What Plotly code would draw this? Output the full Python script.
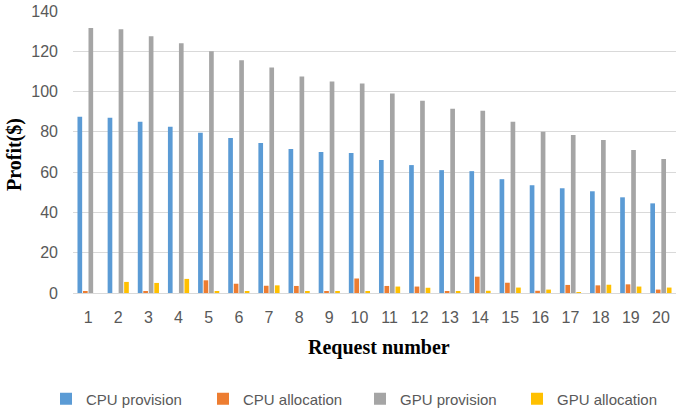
import plotly.graph_objects as go

requests = [str(i) for i in range(1, 21)]
cpu_provision = [87.5, 87, 85, 82.5, 79.5, 77, 74.5, 71.5, 70, 69.5, 66, 63.5, 61, 60.5, 56.5, 53.5, 52, 50.5, 47.5, 44.5]
cpu_allocation = [0.7, 0, 0.8, 0, 6.3, 4.6, 3.6, 3.5, 0.6, 7.2, 3.5, 3.2, 0.8, 8.1, 5.1, 1.1, 4.0, 3.8, 4.3, 1.7]
gpu_provision = [131.5, 131, 127.5, 124, 120, 115.5, 112, 107.5, 105, 104, 99, 95.5, 91.5, 90.5, 85, 80, 78.5, 76, 71, 66.5]
gpu_allocation = [0, 5.5, 5.0, 7.0, 0.8, 1.0, 3.8, 0.8, 1.0, 0.8, 3.2, 2.6, 0.7, 1.1, 2.7, 1.7, 0.3, 4.1, 3.2, 2.7]

series = [
    ("CPU provision", cpu_provision, "#5B9BD5"),
    ("CPU allocation", cpu_allocation, "#ED7D31"),
    ("GPU provision", gpu_provision, "#A5A5A5"),
    ("GPU allocation", gpu_allocation, "#FFC000"),
]

fig = go.Figure()
for name, vals, color in series:
    fig.add_trace(go.Bar(x=requests, y=vals, name=name, marker=dict(color=color, line=dict(width=0))))

W, H = 685, 411
L, R, T, B = 73, 9, 11, 118
pw = W - L - R
ph = H - T - B

def px(xp):
    return (xp - L) / pw

def py(yp):
    return (H - B - yp) / ph

fig.update_layout(
    width=W, height=H,
    margin=dict(l=L, r=R, t=T, b=B, autoexpand=False),
    paper_bgcolor="white", plot_bgcolor="white",
    barmode="group", bargap=0.27, bargroupgap=0.15,
    font=dict(family="Liberation Sans", color="#595959", size=16),
    xaxis=dict(showgrid=False, showline=True, linecolor="#D9D9D9", linewidth=1,
               ticks="", ticklabelstandoff=10, tickfont=dict(size=16, color="#595959")),
    yaxis=dict(range=[0, 140], dtick=20, showgrid=True, gridcolor="#D9D9D9", gridwidth=1,
               zeroline=False, showline=False, ticks="", ticklabelstandoff=14,
               tickfont=dict(size=16, color="#595959")),
    legend=dict(orientation="h", x=px(46), xanchor="left", y=py(399), yanchor="middle",
                font=dict(size=15, color="#595959"), traceorder="normal",
                entrywidth=112, entrywidthmode="pixels"),
    annotations=[
        dict(text="<b>Profit($)</b>", xref="paper", yref="paper", x=px(14), y=py(155),
             xanchor="center", yanchor="middle", textangle=-90, showarrow=False,
             font=dict(family="Liberation Serif", size=20, color="black")),
        dict(text="<b>Request number</b>", xref="paper", yref="paper", x=px(379), y=py(347),
             xanchor="center", yanchor="middle", showarrow=False,
             font=dict(family="Liberation Serif", size=20, color="black")),
    ],
)

fig.write_html("out.html", config={"displayModeBar": False},
               post_script="document.body.style.margin='0';")
